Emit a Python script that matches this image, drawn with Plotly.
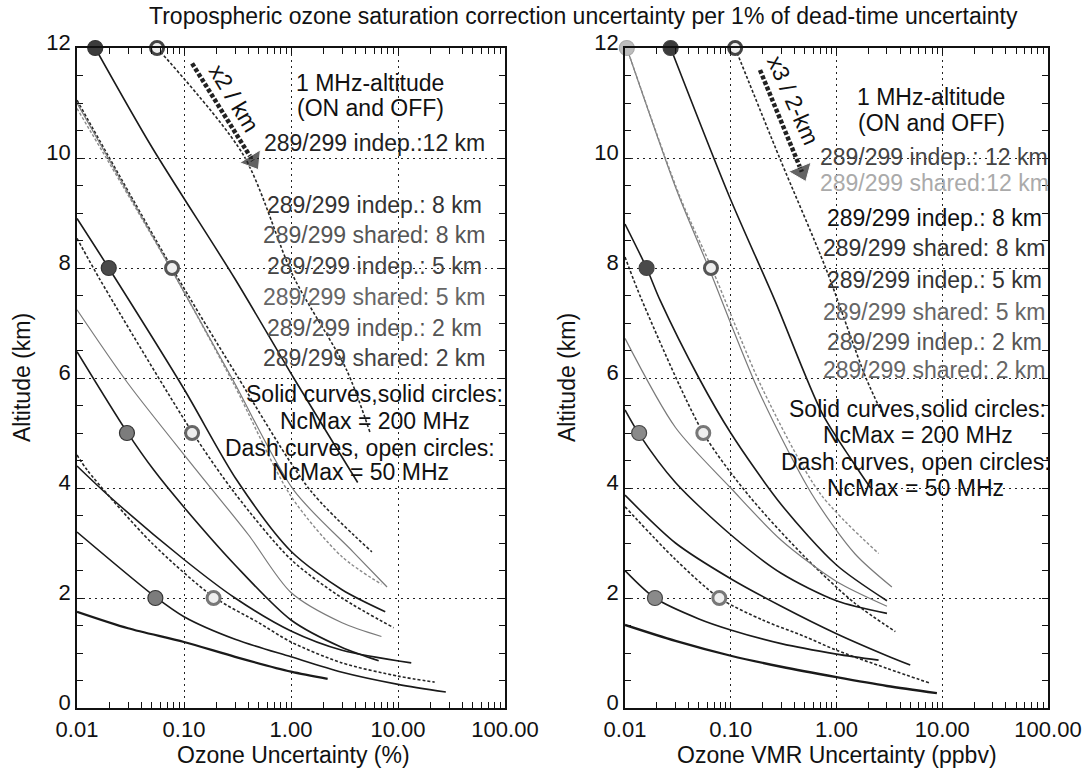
import plotly.graph_objects as go

W, H = 1087, 768
FONT = "Liberation Sans, Arial, Helvetica, sans-serif"

# ------------------------------------------------------------------
# Axis ticks
X_TICKVALS = [0.01, 0.1, 1, 10, 100]
X_TICKTEXT = ["0.01", "0.10", "1.00", "10.00", "100.00"]
Y_TICKVALS = [0, 2, 4, 6, 8, 10, 12]
Y_TICKTEXT = ["0", "2", "4", "6", "8", "10", "12"]

# ------------------------------------------------------------------
# LEFT panel curves: Ozone Uncertainty (%) vs altitude (km)
L_S12I_X = [0.0148, 0.05, 0.3, 1.06, 4.2]
L_S12I_Z = [12, 10.2, 7.8, 6.0, 4.1]
L_D12I_X = [0.056, 0.36, 1.05, 3.3, 5.5]
L_D12I_Z = [12, 10.05, 7.85, 6.15, 5.0]
L_D8I_X = [0.01, 0.0773, 0.3, 1.51, 5.7]
L_D8I_Z = [11.05, 8.0, 6.1, 3.96, 2.84]
L_G8_X = [0.01, 0.075, 0.28, 1.06, 3.8, 7.9]
L_G8_Z = [11.0, 8.0, 6.0, 3.96, 2.84, 2.2]
L_D8S_X = [0.01, 0.08, 0.29, 1.0, 3.0, 7.0]
L_D8S_Z = [10.9, 7.9, 5.9, 3.85, 2.75, 2.25]
L_S8I_X = [0.01, 0.0198, 0.1, 0.31, 1.0, 3.0, 7.6]
L_S8I_Z = [8.9, 8.0, 5.8, 4.15, 2.85, 2.15, 1.75]
L_D5I_X = [0.01, 0.0165, 0.119, 0.3, 1.0, 3.0, 9.1]
L_D5I_Z = [8.54, 7.78, 5.02, 3.9, 2.7, 2.0, 1.46]
L_S8S_X = [0.01, 0.03, 0.13, 0.4, 1.0, 3.0, 7.0]
L_S8S_Z = [7.24, 5.9, 4.33, 3.15, 2.1, 1.55, 1.3]
L_S5I_X = [0.01, 0.0293, 0.052, 0.1, 0.3, 1.0, 3.0, 6.6]
L_S5I_Z = [6.48, 5.02, 4.33, 3.65, 2.6, 1.6, 1.1, 0.86]
L_S2I_X = [0.01, 0.02, 0.1, 0.3, 1.0, 3.0, 13.3]
L_S2I_Z = [4.4, 3.85, 2.7, 2.0, 1.4, 1.05, 0.82]
L_D2I_X = [0.01, 0.0124, 0.05, 0.189, 0.5, 1.0, 3.0, 10, 22]
L_D2I_Z = [4.6, 4.33, 3.0, 2.02, 1.55, 1.2, 0.82, 0.58, 0.47]
L_S2S_X = [0.01, 0.054, 0.1, 0.3, 1.0, 3.0, 10, 28]
L_S2S_Z = [3.2, 2.02, 1.66, 1.25, 0.93, 0.65, 0.43, 0.29]
L_BOT_X = [0.01, 0.03, 0.1, 0.3, 1.0, 2.2]
L_BOT_Z = [1.75, 1.45, 1.2, 0.93, 0.66, 0.53]

# Left panel 1 MHz-altitude circles
L_SOLID_CIRC_X = [0.0148, 0.0198, 0.0293, 0.054]
L_SOLID_CIRC_Z = [12, 8, 5, 2]
L_OPEN_CIRC_X = [0.056, 0.0773, 0.119, 0.189]
L_OPEN_CIRC_Z = [12, 8, 5, 2]

# ------------------------------------------------------------------
# RIGHT panel curves: Ozone VMR Uncertainty (ppbv) vs altitude (km)
R_S12I_X = [0.027, 0.097, 0.26, 0.73, 1.4, 2.1]
R_S12I_Z = [12, 9.3, 7.42, 5.36, 4.5, 4.0]
R_D12I_X = [0.11, 0.29, 0.79, 1.9, 2.8]
R_D12I_Z = [12, 10.0, 8.0, 6.0, 5.3]
R_G12_X = [0.0104, 0.031, 0.062, 0.18, 0.58, 1.5, 3.34]
R_G12_Z = [12, 9.4, 8.0, 5.8, 3.9, 2.8, 2.2]
R_GD12_X = [0.0104, 0.033, 0.066, 0.2, 0.7, 2.5]
R_GD12_Z = [12, 9.3, 8.0, 5.8, 3.9, 2.81]
R_S8I_X = [0.01, 0.016, 0.0214, 0.05, 0.1, 0.3, 1.0, 3.0]
R_S8I_Z = [8.8, 8.0, 7.42, 6.0, 5.0, 3.7, 2.6, 1.95]
R_D5I_X = [0.01, 0.0144, 0.055, 0.15, 0.5, 1.5, 3.6]
R_D5I_Z = [8.2, 7.42, 5.0, 3.85, 2.75, 1.9, 1.39]
R_S8S_X = [0.01, 0.03, 0.1, 0.3, 1.0, 3.0]
R_S8S_Z = [6.72, 5.1, 4.0, 3.05, 2.3, 1.85]
R_S5I_X = [0.01, 0.0136, 0.03, 0.1, 0.3, 1.0, 3.0]
R_S5I_Z = [5.42, 4.98, 4.1, 3.15, 2.45, 1.95, 1.72]
R_S5S_X = [0.01, 0.03, 0.1, 0.3, 1.0, 3.0, 4.98]
R_S5S_Z = [3.87, 3.0, 2.35, 1.85, 1.35, 0.95, 0.78]
R_D2I_X = [0.01, 0.03, 0.078, 0.2, 0.5, 1.0, 3.0, 7.7]
R_D2I_Z = [3.66, 2.7, 2.0, 1.6, 1.3, 1.05, 0.72, 0.45]
R_S2I_X = [0.01, 0.0192, 0.05, 0.1, 0.3, 1.0, 2.5]
R_S2I_Z = [2.5, 2.0, 1.62, 1.42, 1.17, 0.98, 0.87]
R_BOT_X = [0.01, 0.03, 0.1, 0.3, 1.0, 3.0, 8.9]
R_BOT_Z = [1.51, 1.22, 0.95, 0.75, 0.56, 0.40, 0.27]

R_SOLID_CIRC_X = [0.027, 0.016, 0.0136, 0.0192]
R_SOLID_CIRC_Z = [12, 8, 5, 2]
R_OPEN_CIRC_X = [0.11, 0.065, 0.055, 0.078]
R_OPEN_CIRC_Z = [12, 8, 5, 2]
R_GREY_CIRC_X = [0.0104]
R_GREY_CIRC_Z = [12]

# Trend arrows ("x2 / km", "x3 / 2-km")
L_ARROW_X = [0.119, 0.44]
L_ARROW_Z = [11.72, 9.95]
R_ARROW_X = [0.189, 0.47]
R_ARROW_Z = [11.6, 9.75]

# Text labels
L_LABELS = ["289/299 indep.:12 km", "289/299 indep.: 8 km", "289/299 shared: 8 km",
            "289/299 indep.: 5 km", "289/299 shared: 5 km", "289/299 indep.: 2 km",
            "289/299 shared: 2 km"]
R_LABELS = ["289/299 indep.: 12 km", "289/299 shared:12 km", "289/299 indep.: 8 km",
            "289/299 shared: 8 km", "289/299 indep.: 5 km", "289/299 shared: 5 km",
            "289/299 indep.: 2 km", "289/299 shared: 2 km"]

# ------------------------------------------------------------------
STYLES = {
    "blk": dict(color="#1a1a1a", width=1.6),
    "blk_thick": dict(color="#1a1a1a", width=2.3),
    "gry": dict(color="#7a7a7a", width=1.2),
    "dblk": dict(color="#262626", width=1.6, dash="3px,2px"),
    "dgry": dict(color="#8a8a8a", width=1.4, dash="3px,2px"),
}

LEFT_CURVES = [
    (L_S12I_X, L_S12I_Z, "blk"), (L_D12I_X, L_D12I_Z, "dblk"),
    (L_D8I_X, L_D8I_Z, "dblk"), (L_G8_X, L_G8_Z, "gry"), (L_D8S_X, L_D8S_Z, "dgry"),
    (L_S8I_X, L_S8I_Z, "blk"), (L_D5I_X, L_D5I_Z, "dblk"), (L_S8S_X, L_S8S_Z, "gry"),
    (L_S5I_X, L_S5I_Z, "blk"), (L_S2I_X, L_S2I_Z, "blk"), (L_D2I_X, L_D2I_Z, "dblk"),
    (L_S2S_X, L_S2S_Z, "blk"), (L_BOT_X, L_BOT_Z, "blk_thick"),
]
RIGHT_CURVES = [
    (R_S12I_X, R_S12I_Z, "blk"), (R_D12I_X, R_D12I_Z, "dblk"),
    (R_G12_X, R_G12_Z, "gry"), (R_GD12_X, R_GD12_Z, "dgry"),
    (R_S8I_X, R_S8I_Z, "blk"), (R_D5I_X, R_D5I_Z, "dblk"), (R_S8S_X, R_S8S_Z, "gry"),
    (R_S5I_X, R_S5I_Z, "blk"), (R_S5S_X, R_S5S_Z, "blk"), (R_D2I_X, R_D2I_Z, "dblk"),
    (R_S2I_X, R_S2I_Z, "blk"), (R_BOT_X, R_BOT_Z, "blk_thick"),
]

fig = go.Figure()

for curves, xa, ya in ((LEFT_CURVES, "x", "y"), (RIGHT_CURVES, "x2", "y2")):
    for xs, zs, st in curves:
        fig.add_trace(go.Scatter(x=xs, y=zs, mode="lines", line=dict(shape="spline", smoothing=0.8, **STYLES[st]),
                                 xaxis=xa, yaxis=ya, hoverinfo="skip", showlegend=False))

def circles(xs, zs, xa, ya, fills, ring):
    fig.add_trace(go.Scatter(x=xs, y=zs, mode="markers", xaxis=xa, yaxis=ya, cliponaxis=False,
                             marker=dict(size=15, color=fills, line=dict(color=ring, width=1.2)),
                             hoverinfo="skip", showlegend=False))

def open_circles(xs, zs, xa, ya, ring):
    fig.add_trace(go.Scatter(x=xs, y=zs, mode="markers", xaxis=xa, yaxis=ya, cliponaxis=False,
                             marker=dict(size=13, color="#eeeeee", line=dict(color=ring, width=3)),
                             hoverinfo="skip", showlegend=False))

circles(L_SOLID_CIRC_X, L_SOLID_CIRC_Z, "x", "y", ["#3c3c3c", "#4a4a4a", "#7c7c7c", "#7c7c7c"], "#333")
open_circles(L_OPEN_CIRC_X, L_OPEN_CIRC_Z, "x", "y", ["#444", "#555", "#666", "#777"])
circles(R_GREY_CIRC_X, R_GREY_CIRC_Z, "x2", "y2", ["#bdbdbd"], "#aaa")
circles(R_SOLID_CIRC_X, R_SOLID_CIRC_Z, "x2", "y2", ["#3c3c3c", "#4a4a4a", "#8a8a8a", "#8a8a8a"], "#444")
open_circles(R_OPEN_CIRC_X, R_OPEN_CIRC_Z, "x2", "y2", ["#444", "#555", "#777", "#777"])

for ax, ay, xa, ya in ((L_ARROW_X, L_ARROW_Z, "x", "y"), (R_ARROW_X, R_ARROW_Z, "x2", "y2")):
    fig.add_trace(go.Scatter(x=ax, y=ay, mode="lines+markers", xaxis=xa, yaxis=ya,
                             line=dict(color="#222", width=4.5, dash="4px,2px"),
                             marker=dict(symbol=["circle", "triangle-up"], size=[0, 21], color="#222",
                                         angleref="previous"),
                             hoverinfo="skip", showlegend=False))

# ------------------------------------------------------------------
MINOR_X = [m * 10.0 ** e for e in range(-2, 2) for m in range(2, 10)]

def xaxis(dom, anchor):
    return dict(domain=dom, anchor=anchor, type="log", range=[-2, 2], automargin=False,
                tickmode="array", tickvals=X_TICKVALS, ticktext=X_TICKTEXT,
                ticks="inside", ticklen=6, tickwidth=1, tickcolor="#111", ticklabelstandoff=1,
                showline=True, linecolor="#111", linewidth=1.8, mirror="allticks",
                showgrid=True, gridcolor="#222", griddash="2px,4px", gridwidth=1.3,
                zeroline=False, tickfont=dict(family=FONT, size=22, color="#111"),
                minor=dict(tickmode="array", tickvals=MINOR_X, ticks="inside", ticklen=6,
                           tickwidth=1, tickcolor="#111", showgrid=False))

def yaxis(anchor):
    return dict(domain=[1 - 708 / H, 1 - 48 / H], anchor=anchor, range=[0, 12], automargin=False,
                tickmode="array", tickvals=Y_TICKVALS, ticktext=Y_TICKTEXT,
                ticks="inside", ticklen=6, tickwidth=1, tickcolor="#111", ticklabelshift=-6,
                showline=True, linecolor="#111", linewidth=1.8, mirror="allticks",
                showgrid=True, gridcolor="#222", griddash="2px,4px", gridwidth=1.3,
                zeroline=False, tickfont=dict(family=FONT, size=22, color="#111"),
                minor=dict(dtick=0.5, ticks="inside", ticklen=6, tickwidth=1,
                           tickcolor="#111", showgrid=False))

fig.update_layout(
    width=W, height=H, margin=dict(l=0, r=0, t=0, b=0, pad=0, autoexpand=False),
    paper_bgcolor="white", plot_bgcolor="white", showlegend=False,
    font=dict(family=FONT, size=22, color="#111"),
    xaxis=xaxis([77 / W, 505 / W], "y"), yaxis=yaxis("x"),
    xaxis2=xaxis([625 / W, 1048 / W], "y2"), yaxis2=yaxis("x2"),
)

def px(x):
    return x / W

def py(y):
    return 1 - y / H

ann = []

def text(t, x, y, size=23, color="#111", angle=0, xanchor="center"):
    ann.append(dict(text=t, x=px(x), y=py(y), xref="paper", yref="paper", showarrow=False,
                    xanchor=xanchor, yanchor="middle", textangle=angle,
                    font=dict(family=FONT, size=size, color=color)))

text("Tropospheric ozone saturation correction uncertainty per 1% of dead-time uncertainty", 583, 16)
text("Ozone Uncertainty (%)", 293, 755)
text("Ozone VMR Uncertainty (ppbv)", 837, 755)
text("Altitude (km)", 22, 378, angle=-90)
text("Altitude (km)", 567, 378, angle=-90)

# left panel texts
text("1 MHz-altitude", 370, 83)
text("(ON and OFF)", 370, 108)
L_LABEL_Y = [143, 205, 235, 266, 297, 328, 358]
L_LABEL_C = ["#222", "#333", "#555", "#444", "#666", "#555", "#444"]
for t, yy, c in zip(L_LABELS, L_LABEL_Y, L_LABEL_C):
    text(t, 374, yy, color=c)
text("Solid curves,solid circles:", 374, 394)
text("NcMax = 200 MHz", 375, 421)
text("Dash curves, open circles:", 360, 448)
text("NcMax = 50 MHz", 360, 472)
text("x2 / km", 234, 98, angle=59)

# right panel texts
text("1 MHz-altitude", 931, 97)
text("(ON and OFF)", 931, 123)
R_LABEL_Y = [157, 183, 218, 248, 280, 312, 342, 370]
R_LABEL_C = ["#444", "#aaa", "#111", "#333", "#333", "#666", "#555", "#666"]
for t, yy, c in zip(R_LABELS, R_LABEL_Y, R_LABEL_C):
    text(t, 934, yy, color=c)
text("Solid curves,solid circles:", 917, 409)
text("NcMax = 200 MHz", 918, 435)
text("Dash curves, open circles:", 916, 462)
text("NcMax = 50 MHz", 915, 488)
text("x3 / 2-km", 793, 100, angle=66)

fig.update_layout(annotations=ann)

fig.write_html("out.html", config={"displayModeBar": False},
               post_script="document.body.style.margin='0';")
